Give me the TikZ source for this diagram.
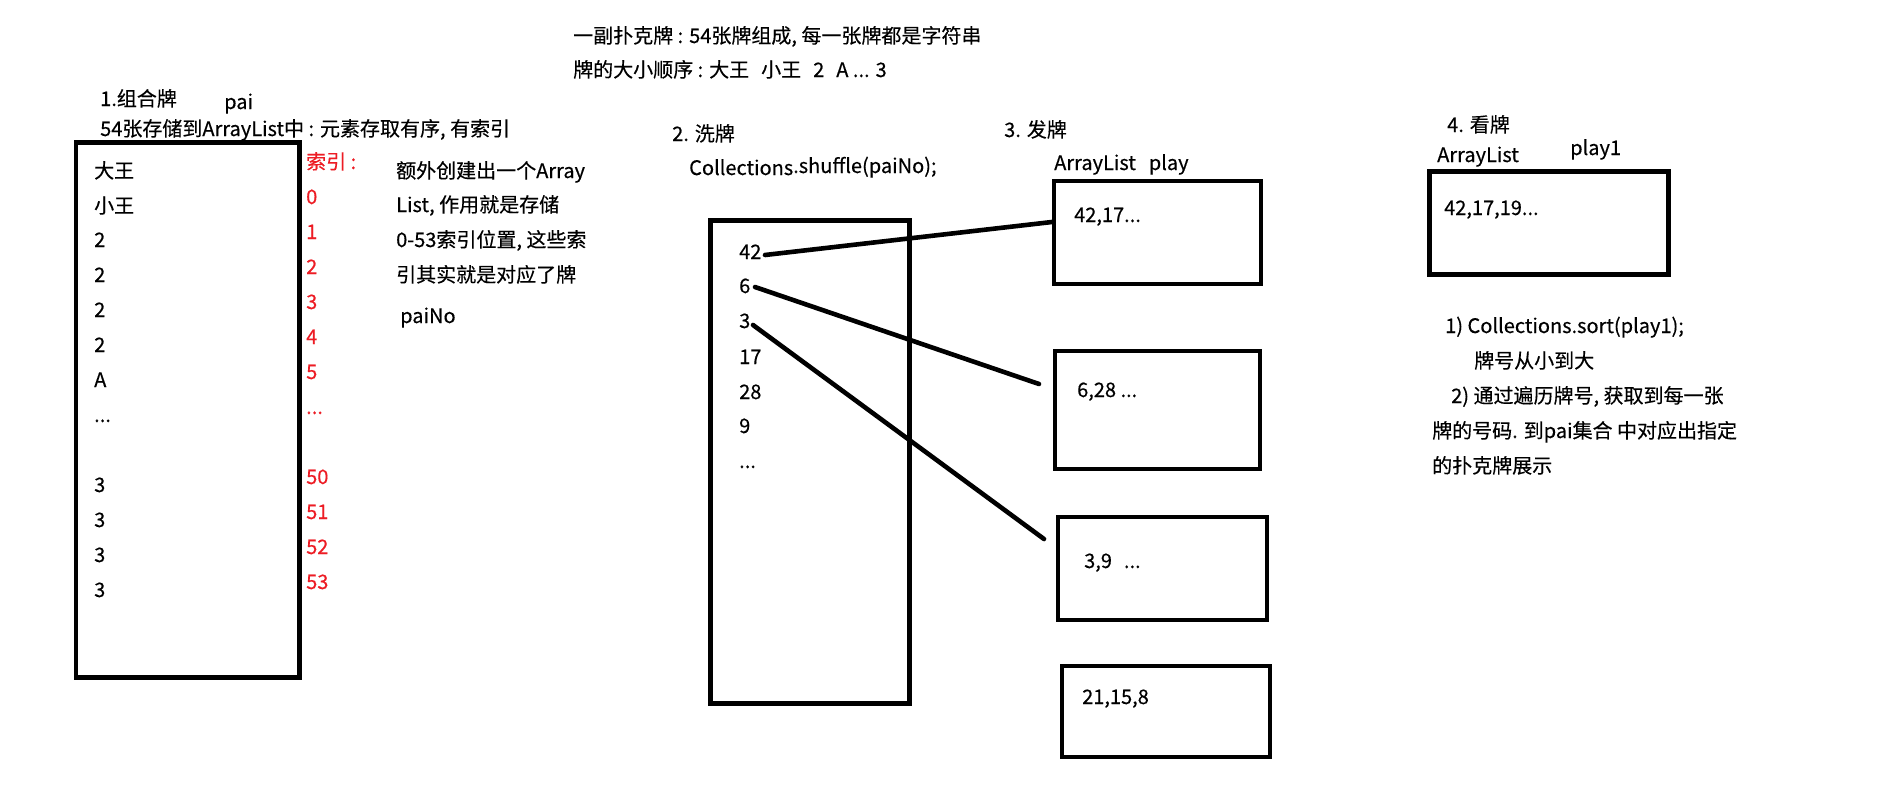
\documentclass[tikz,border=0pt]{standalone}
\usepackage{fontspec}
\setmainfont{Noto Sans CJK SC}[BoldFont=Noto Sans CJK SC,BoldFeatures={FakeBold=0.35}]
\definecolor{idxred}{RGB}{237,28,36}
\begin{document}
\begin{tikzpicture}[x=1pt,y=-1pt,
  txt/.style={anchor=base west,inner sep=0pt,font=\fontsize{20}{24}\selectfont\bfseries},
  redtxt/.style={txt,text=idxred},
  box/.style={draw,line width=4.8pt,inner sep=0pt},
  link/.style={line width=4.6pt,line cap=round}]
\useasboundingbox (0,0) rectangle (1895,787);
\fill[white] (0,0) rectangle (1895,787);

% headings at top
\node[txt] (t1) at (573,43) {一副扑克牌 : 54张牌组成, 每一张牌都是字符串};
\node[txt] (t2) at (573,77) {牌的大小顺序 : 大王\hspace{0.6em}小王\hspace{0.6em}2\hspace{0.6em}A ... 3};

% 1. combine
\node[txt] (h1) at (100,106) {1.组合牌};
\node[txt] (pai) at (224,109) {pai};
\node[txt] (h1b) at (100,136) {54张存储到ArrayList中 : 元素存取有序, 有索引};
\node[box,minimum width=223.5pt,minimum height=535pt] (boxpai) at (187.75,410) {};
\node[txt] (c1) at (94,178) {大王};
\node[txt] (c2) at (94,213) {小王};
\node[txt] (c3) at (94,247) {2};
\node[txt] (c4) at (94,282) {2};
\node[txt] (c5) at (94,317) {2};
\node[txt] (c6) at (94,352) {2};
\node[txt] (c7) at (94,387) {A};
\node[txt] (c8) at (94,422) {...};
\node[txt] (c9) at (94,492) {3};
\node[txt] (c10) at (94,527) {3};
\node[txt] (c11) at (94,562) {3};
\node[txt] (c12) at (94,597) {3};

% red index
\node[redtxt] (i0) at (306,169) {索引 :};
\node[redtxt] (i1) at (306,204) {0};
\node[redtxt] (i2) at (306,239) {1};
\node[redtxt] (i3) at (306,274) {2};
\node[redtxt] (i4) at (306,309) {3};
\node[redtxt] (i5) at (306,344) {4};
\node[redtxt] (i6) at (306,379) {5};
\node[redtxt] (i7) at (306,414) {...};
\node[redtxt] (i8) at (306,484) {50};
\node[redtxt] (i9) at (306,519) {51};
\node[redtxt] (i10) at (306,554) {52};
\node[redtxt] (i11) at (306,589) {53};

% explanation
\node[txt] (e1) at (396,178) {额外创建出一个Array};
\node[txt] (e2) at (396,212) {List, 作用就是存储};
\node[txt] (e3) at (396,247) {0-53索引位置, 这些索};
\node[txt] (e4) at (396,282) {引其实就是对应了牌};
\node[txt] (e5) at (400,323) {paiNo};

% 2. shuffle
\node[txt] (h2) at (672,141) {2. 洗牌};
\node[txt] (h2b) at (689,175) {Collections\raisebox{2pt}{.shuffle(paiNo);}};
\node[box,minimum width=199pt,minimum height=483pt] (boxshuf) at (810,462) {};
\node[txt] (n42) at (739,259) {42};
\node[txt] (n6) at (739,293) {6};
\node[txt] (n3) at (739,328) {3};
\node[txt] (n17) at (739,364) {17};
\node[txt] (n28) at (739,399) {28};
\node[txt] (n9) at (739,433) {9};
\node[txt] (ndots) at (739,468) {...};

% 3. deal
\node[txt] (h3) at (1004,137) {3. 发牌};
\node[txt] (h3b) at (1054,170) {ArrayList\hspace{0.65em}play};
\node[box,minimum width=207pt,minimum height=103pt] (p1) at (1157.5,232.5) {};
\node[box,minimum width=205pt,minimum height=118pt] (p2) at (1157.5,410) {};
\node[box,minimum width=209pt,minimum height=103pt] (p3) at (1162.5,568.5) {};
\node[box,minimum width=208pt,minimum height=91pt] (p4) at (1166,711.5) {};
\node[txt] (p1t) at (1074,222) {42,17...};
\node[txt] (p2t) at (1077,397) {6,28 ...};
\node[txt] (p3t) at (1084,568) {3,9\hspace{0.6em}...};
\node[txt] (p4t) at (1082,704) {21,15,8};

% connectors
\coordinate (s42) at (765,255);
\coordinate (e42) at (1052,222);
\coordinate (s6) at (755,287);
\coordinate (e6) at (1039,384);
\coordinate (s3) at (753,325);
\coordinate (e3) at (1044,539);
\draw[link] (s42) -- (e42);
\draw[link] (s6) -- (e6);
\draw[link] (s3) -- (e3);

% 4. look
\node[txt] (h4) at (1447,132) {4. 看牌};
\node[txt] (h4a) at (1437,162) {ArrayList};
\node[txt] (h4b) at (1570,155) {play1};
\node[box,minimum width=239pt,minimum height=103pt] (p5) at (1549,223) {};
\node[txt] (p5t) at (1444,215) {42,17,19...};
\node[txt] (s1) at (1445,333) {1) Collections.sort(play1);};
\node[txt] (s2) at (1474,368) {牌号从小到大};
\node[txt] (s3t) at (1451,403) {2) 通过遍历牌号, 获取到每一张};
\node[txt] (s4) at (1432,438) {牌的号码. 到pai集合 中对应出指定};
\node[txt] (s5) at (1432,473) {的扑克牌展示};
\end{tikzpicture}
\end{document}
